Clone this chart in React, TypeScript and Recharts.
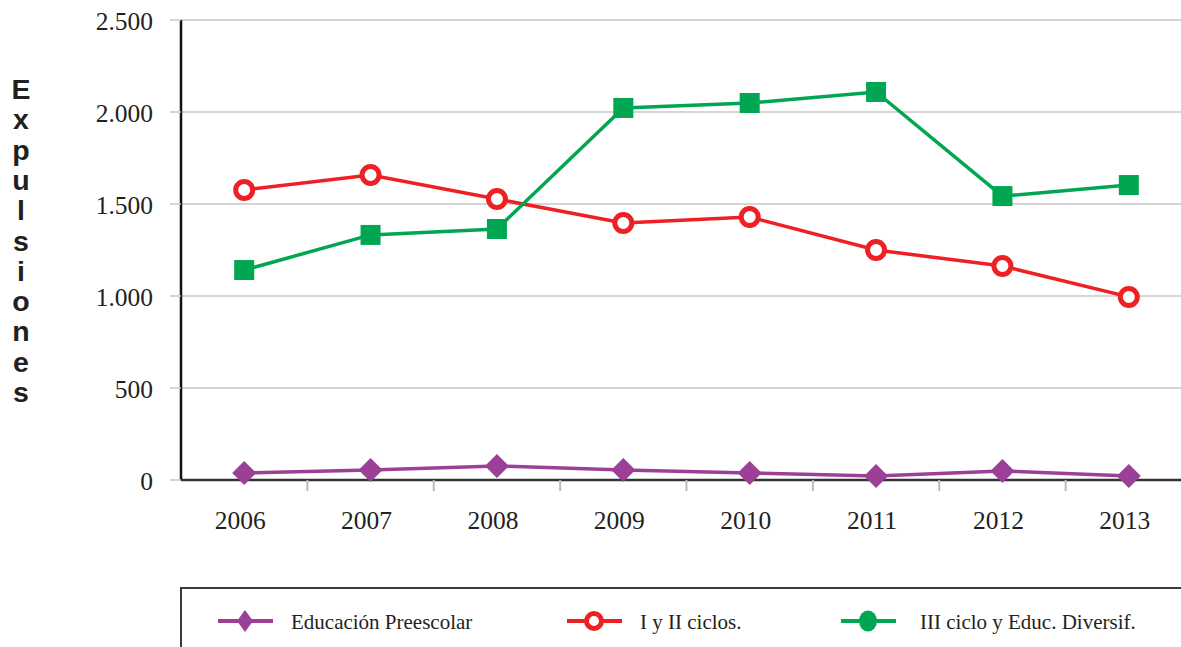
import React from 'react';
import {
    LineChart,
    Line,
    XAxis,
    YAxis,
    CartesianGrid,
} from 'recharts';

const years = ['2006', '2007', '2008', '2009', '2010', '2011', '2012', '2013'];
const preescolar = [38, 54, 76, 54, 38, 22, 49, 22];
const ciclosIyII = [1576, 1658, 1527, 1397, 1429, 1250, 1163, 995];
const cicloIII = [1141, 1332, 1364, 2022, 2049, 2109, 1543, 1603];
const yTicks = [0, 500, 1000, 1500, 2000, 2500];

const data = years.map((year, i) => ({
    year,
    preescolar: preescolar[i],
    ciclos: ciclosIyII[i],
    iii: cicloIII[i],
}));

const PURPLE = '#9b3f97';
const RED = '#ee2024';
const GREEN = '#00a651';
const SERIF = '"Liberation Serif", "DejaVu Serif", serif';

const CHART_W = 1192;
const CHART_H = 647;
const LEFT = 181;
const BAND = (CHART_W - LEFT) / years.length;

const fmt = (v: number) => v.toLocaleString('de-DE');

const Diamond = (props: any) => {
    const { cx, cy } = props;
    const s = 12;
    return <polygon points={`${cx},${cy - s} ${cx + s},${cy} ${cx},${cy + s} ${cx - s},${cy}`} fill={PURPLE} />;
};

const Ring = (props: any) => {
    const { cx, cy } = props;
    return <circle cx={cx} cy={cy} r={8.5} fill="#fff" stroke={RED} strokeWidth={5} />;
};

const Square = (props: any) => {
    const { cx, cy } = props;
    return <rect x={cx - 10} y={cy - 10} width={20} height={20} fill={GREEN} />;
};

const XTick = (props: any) => {
    const { x, y, payload, index } = props;
    return (
        <g>
            {index > 0 && <line x1={x - BAND / 2} x2={x - BAND / 2} y1={y - 8} y2={y + 3} stroke="#bbb" strokeWidth={2} />}
            <text x={x - 4} y={y + 41} textAnchor="middle" style={{ fontFamily: SERIF, fontSize: 25.5 }} fill="#231f20">
                {payload.value}
            </text>
        </g>
    );
};

const YTick = (props: any) => {
    const { x, y, payload } = props;
    return (
        <text x={x + 1} y={y + 10} textAnchor="end" style={{ fontFamily: SERIF, fontSize: 25.5 }} fill="#231f20">
            {fmt(payload.value)}
        </text>
    );
};

const YLabel = () => {
    const letters = 'Expulsiones'.split('');
    return (
        <g>
            {letters.map((c, i) => (
                <text
                    key={i}
                    x={21}
                    y={99 + i * 30.3}
                    textAnchor="middle"
                    style={{ fontFamily: '"Liberation Sans", Arial, sans-serif', fontWeight: 'bold', fontSize: 28.5 }}
                    fill="#231f20"
                >
                    {c}
                </text>
            ))}
        </g>
    );
};

const legendItems = [
    { name: 'Educación Preescolar', color: PURPLE, x: 218, textX: 291, kind: 'diamond' },
    { name: 'I y II ciclos.', color: RED, x: 567, textX: 640, kind: 'ring' },
    { name: 'III ciclo y Educ. Diversif.', color: GREEN, x: 841, textX: 920, kind: 'dot' },
];

const LegendBox = () => (
    <div
        style={{
            position: 'absolute',
            left: LEFT - 1,
            top: 587,
            width: 1100,
            height: 120,
            border: '2px solid #3a3a3a',
            boxSizing: 'border-box',
        }}
    >
        <svg width={1100} height={80} style={{ position: 'absolute', left: -2, top: -2 }}>
            {legendItems.map((it) => {
                const lx = it.x - LEFT + 1;
                const cx = lx + 27;
                const cy = 34;
                return (
                    <g key={it.name}>
                        <line x1={lx} x2={lx + 55} y1={cy} y2={cy} stroke={it.color} strokeWidth={4} />
                        {it.kind === 'diamond' && (
                            <polygon points={`${cx},${cy - 11} ${cx + 8},${cy} ${cx},${cy + 11} ${cx - 8},${cy}`} fill={it.color} />
                        )}
                        {it.kind === 'ring' && <circle cx={cx} cy={cy} r={7.5} fill="#fff" stroke={it.color} strokeWidth={5} />}
                        {it.kind === 'dot' && <ellipse cx={cx} cy={cy} rx={9} ry={10.5} fill={it.color} />}
                        <text x={it.textX - LEFT + 1} y={cy + 8} style={{ fontFamily: SERIF, fontSize: 21 }} fill="#231f20">
                            {it.name}
                        </text>
                    </g>
                );
            })}
        </svg>
    </div>
);

const App: React.FC = () => {
    return (
        <div
            style={{
                position: 'fixed',
                left: 0,
                top: 0,
                width: 1181,
                height: 647,
                overflow: 'hidden',
                background: '#fff',
            }}
        >
            <LineChart
                width={CHART_W}
                height={CHART_H}
                data={data}
                margin={{ top: 20, right: 0, left: 0, bottom: 0 }}
            >
                <CartesianGrid vertical={false} stroke="#c8c8c8" strokeWidth={1.5} />
                <XAxis
                    dataKey="year"
                    height={167}
                    padding={{ left: BAND / 2, right: BAND / 2 }}
                    axisLine={{ stroke: '#333', strokeWidth: 2.5 }}
                    tickLine={false}
                    tick={<XTick />}
                    interval={0}
                />
                <YAxis
                    width={LEFT}
                    domain={[0, 2500]}
                    ticks={yTicks}
                    axisLine={{ stroke: '#111', strokeWidth: 2.5 }}
                    tickLine={{ stroke: '#c8c8c8', strokeWidth: 1.5 }}
                    tickSize={11}
                    tickMargin={18}
                    tick={<YTick />}
                    label={<YLabel />}
                />
                <Line
                    dataKey="preescolar"
                    stroke={PURPLE}
                    strokeWidth={3.5}
                    dot={<Diamond />}
                    isAnimationActive={false}
                />
                <Line
                    dataKey="ciclos"
                    stroke={RED}
                    strokeWidth={3.5}
                    dot={<Ring />}
                    isAnimationActive={false}
                />
                <Line
                    dataKey="iii"
                    stroke={GREEN}
                    strokeWidth={3.5}
                    dot={<Square />}
                    isAnimationActive={false}
                />
            </LineChart>
            <LegendBox />
        </div>
    );
};

export default App;
